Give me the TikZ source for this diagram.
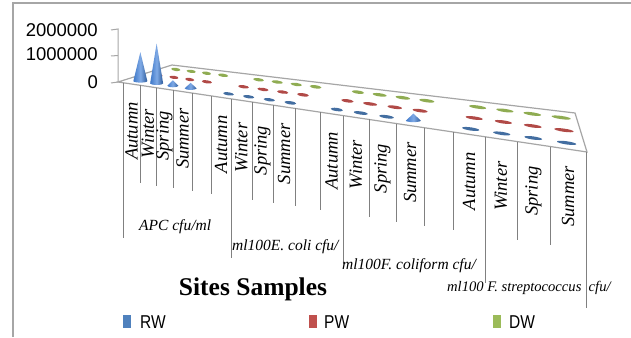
\documentclass[tikz,border=0pt]{standalone}
\usepackage{fontspec}
\setmainfont{Liberation Serif}
\newfontfamily\arialf{Liberation Sans}
\definecolor{rwc}{HTML}{4F81BD}
\definecolor{pwc}{HTML}{C0504D}
\definecolor{dwc}{HTML}{9BBB59}
\definecolor{conel}{HTML}{3F78C8}
\definecolor{conem}{HTML}{7FAAE6}
\definecolor{coner}{HTML}{2C5A9A}
\definecolor{framec}{HTML}{A6A6A6}
\definecolor{sepc}{HTML}{808080}
\newcommand\floorpt[2]{%
  \pgfmathsetmacro\mkyF{82+0.1493*(#1-118)}%
  \pgfmathsetmacro\mknum{65+0.1191*(#1-172)-\mkyF}%
  \pgfmathsetmacro\mkden{(-46-\mkyF)-0.1191*(526-#1)}%
  \pgfmathsetmacro\mkt{\mknum/\mkden}%
  \pgfmathsetmacro\mkx{#1+#2*\mkt*(526-#1)}%
  \pgfmathsetmacro\mky{\mkyF+#2*\mkt*(-46-\mkyF)}%
}
\newcommand\flatmk[4]{% front x, depth, width, colour
  \floorpt{#1}{#2}%
  \pgfmathsetmacro\mkhl{0.27*#3}%
  \fill[#4, shift={(\mkx,\mky)}, rotate=-8] (0,0) ellipse (\mkhl pt and 1.6pt);
}
\newcommand\conemk[4]{% front x, depth, half width, height
  \floorpt{#1}{#2}%
  \shade[left color=conel, right color=coner, middle color=conem]
    (\mkx-#3,\mky) -- (\mkx,\mky-#4) -- (\mkx+#3,\mky) arc (0:-180:#3pt and 1.5pt) -- cycle;
}
\begin{document}
\begin{tikzpicture}[x=1pt,y=-1pt,
  seasonlab/.style={rotate=90, inner sep=0pt, font=\fontsize{18.5}{18.5}\selectfont\itshape},
  grouplab/.style={anchor=west, inner sep=0pt, font=\fontsize{15.5}{15.5}\selectfont\itshape},
  axislab/.style={anchor=east, inner sep=0pt, font=\arialf\fontsize{18.5}{18.5}\selectfont},
  leglab/.style={anchor=west, inner sep=0pt, font=\arialf\fontsize{15.5}{15.5}\selectfont},
  seprule/.style={draw=sepc, line width=0.8pt},
  framerule/.style={draw=framec, line width=1.4pt}]
\useasboundingbox (0,0) rectangle (631,337);
% frame
\draw[framerule] (13,337) -- (13,3) -- (631,3);
% value axis
\coordinate (ax0) at (118,82);
\coordinate (ax2) at (118,29);
\coordinate (t0) at (111,83);
\coordinate (t1) at (111,56);
\coordinate (t1a) at (118,55.5);
\coordinate (t2) at (111,30);
\draw[framerule, line width=1pt] (t2) -- (ax2) -- (ax0) -- (t0);
\draw[framerule, line width=1pt] (t1) -- (t1a);
\node[axislab] (v2) at (98,30.5) {2000000};
\node[axislab] (v1) at (98,54.5) {1000000};
\node[axislab] (v0) at (98,82.5) {0};
% floor
\coordinate (FL) at (118,82);
\coordinate (FR) at (587,152);
\coordinate (BR) at (575,113);
\coordinate (BL) at (172,65);
\filldraw[fill=white, framerule, line width=1.2pt] (FL) -- (BL) -- (BR) -- (FR) -- cycle;
% green row
\foreach \f/\w in {131.5/17,148/17,164.5/17,182.5/19,221/20,241.5/21,262.5/21,284/22,331.5/23,356/26,382.5/27,410/28,469/32,501/32,533.5/33,568/36}
  {\flatmk{\f}{0.8333}{\w}{dwc!92!black}}
% red row
\foreach \f/\w in {131.5/17,148/17,164.5/17,182.5/19,221/20,241.5/21,262.5/21,284/22,331.5/23,356/26,382.5/27,410/28,469/32,501/32,533.5/33,568/36}
  {\flatmk{\f}{0.5}{\w}{pwc!92!black}}
% blue row
\foreach \f/\w in {221/20,241.5/21,262.5/21,284/22,331.5/23,356/26,382.5/27,469/32,501/32,533.5/33,568/36}
  {\flatmk{\f}{0.1667}{\w}{rwc!85!black}}
\conemk{164.5}{0.1667}{5.5}{5.5}
\conemk{182.5}{0.1667}{6}{5.5}
\conemk{410}{0.1667}{7.5}{7}
\conemk{131.5}{0.1667}{7}{29}
\conemk{148}{0.1667}{6.5}{40}
% season separators
\foreach \x in {140,156,173,192,211,252,273,295,320,369,396,424,453,517,550}
  {\pgfmathsetmacro\yt{82+0.1493*(\x-118)}
   \pgfmathsetmacro\yb{\yt+98}
   \draw[seprule] (\x,\yt) -- (\x,\yb);}
% group separators
\foreach \x/\yb in {123/238,231/258,343/264,485/283,586/308}
  {\pgfmathsetmacro\yt{82+0.1493*(\x-118)}
   \draw[seprule] (\x,\yt) -- (\x,\yb);}
% season labels
\foreach \f/\s [count=\i] in {131.5/Autumn,148/Winter,164.5/Spring,182.5/Summer,221/Autumn,241.5/Winter,262.5/Spring,284/Summer,331.5/Autumn,356/Winter,382.5/Spring,410/Summer,469/Autumn,501/Winter,533.5/Spring,568/Summer}
  {\pgfmathsetmacro\yc{82+0.1493*(\f-118)+47}
   \node[seasonlab] (sl\i) at (\f,\yc) {\s};}
% group labels
\node[grouplab] (g1) at (139,227) {APC cfu/ml};
\node[grouplab] (g2) at (232,247) {ml100E. coli cfu/};
\node[grouplab] (g3) at (342,266) {ml100F. coliform cfu/};
\node[grouplab, font=\fontsize{14.6}{14.6}\selectfont\itshape] (g4) at (447,288) {ml100 F. streptococcus\ \ cfu/};
% axis title
\node[inner sep=0pt, font=\fontsize{25.5}{25.5}\selectfont\bfseries] (title) at (253,289) {Sites Samples};
% legend
\fill[rwc] (123,315) rectangle (131,328);
\node[leglab] (lrw) at (140,322) {\scalebox{1}[1.2]{RW}};
\fill[pwc] (309,315) rectangle (317,328);
\node[leglab] (lpw) at (324,322) {\scalebox{1}[1.2]{PW}};
\fill[dwc] (493,315) rectangle (501,328);
\node[leglab] (ldw) at (509,322) {\scalebox{1}[1.2]{DW}};
\end{tikzpicture}
\end{document}
